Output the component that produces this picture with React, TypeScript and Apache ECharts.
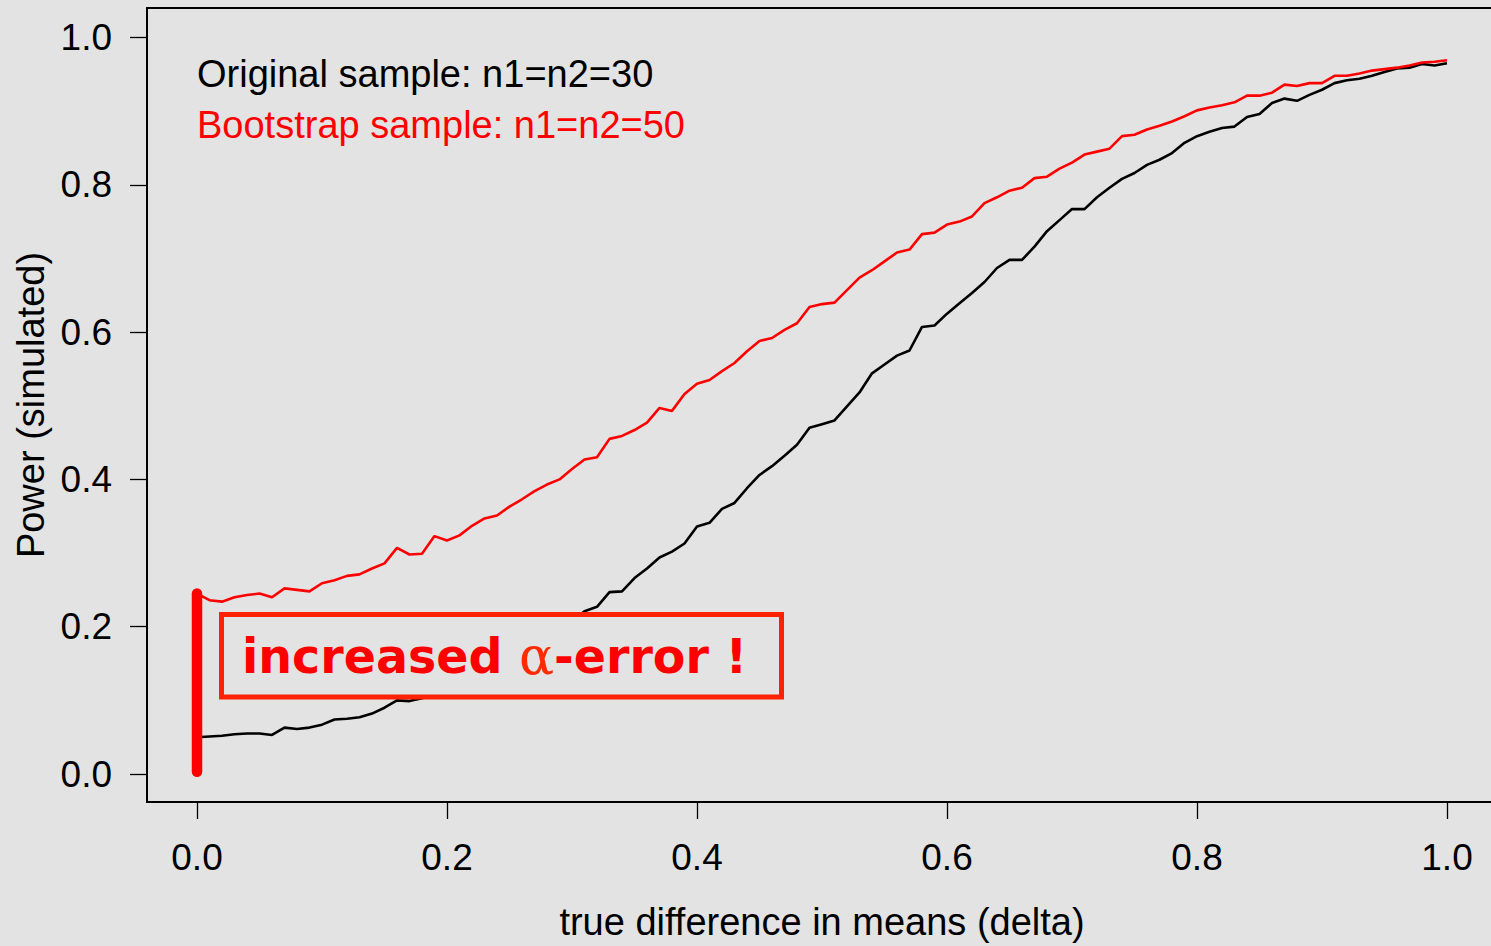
import React, { useEffect, useRef } from "react";
import * as echarts from "echarts";

const delta = [
  0.0, 0.01, 0.02, 0.03, 0.04, 0.05, 0.06, 0.07, 0.08, 0.09,
  0.1, 0.11, 0.12, 0.13, 0.14, 0.15, 0.16, 0.17, 0.18, 0.19,
  0.2, 0.21, 0.22, 0.23, 0.24, 0.25, 0.26, 0.27, 0.28, 0.29,
  0.3, 0.31, 0.32, 0.33, 0.34, 0.35, 0.36, 0.37, 0.38, 0.39,
  0.4, 0.41, 0.42, 0.43, 0.44, 0.45, 0.46, 0.47, 0.48, 0.49,
  0.5, 0.51, 0.52, 0.53, 0.54, 0.55, 0.56, 0.57, 0.58, 0.59,
  0.6, 0.61, 0.62, 0.63, 0.64, 0.65, 0.66, 0.67, 0.68, 0.69,
  0.7, 0.71, 0.72, 0.73, 0.74, 0.75, 0.76, 0.77, 0.78, 0.79,
  0.8, 0.81, 0.82, 0.83, 0.84, 0.85, 0.86, 0.87, 0.88, 0.89,
  0.9, 0.91, 0.92, 0.93, 0.94, 0.95, 0.96, 0.97, 0.98, 0.99,
  1.0,
];

const powerOriginal = [
  0.05, 0.051, 0.052, 0.054, 0.055, 0.055, 0.053, 0.063, 0.061, 0.063,
  0.067, 0.074, 0.075, 0.077, 0.082, 0.09, 0.1, 0.099, 0.103, 0.108,
  0.113, 0.119, 0.126, 0.134, 0.143, 0.152, 0.163, 0.175, 0.185, 0.196,
  0.207, 0.221, 0.227, 0.247, 0.248, 0.266, 0.279, 0.294, 0.302, 0.313,
  0.336, 0.341, 0.36, 0.368, 0.388, 0.406, 0.418, 0.432, 0.447, 0.47,
  0.475, 0.48, 0.499, 0.518, 0.544, 0.556, 0.568, 0.575, 0.607, 0.609,
  0.625, 0.639, 0.653, 0.668, 0.687, 0.698, 0.698, 0.716, 0.737, 0.752,
  0.767, 0.767, 0.783, 0.796, 0.808, 0.816, 0.827, 0.834, 0.843, 0.857,
  0.866, 0.872, 0.877, 0.879, 0.892, 0.896, 0.911, 0.917, 0.914, 0.922,
  0.929, 0.938, 0.942, 0.944, 0.948, 0.953, 0.958, 0.959, 0.964, 0.962,
  0.965,
];

const powerBootstrap = [
  0.245, 0.236, 0.234, 0.24, 0.243, 0.245, 0.24, 0.252, 0.25, 0.248,
  0.259, 0.263, 0.269, 0.271, 0.279, 0.286, 0.307, 0.298, 0.299, 0.323,
  0.317, 0.324, 0.337, 0.347, 0.351, 0.363, 0.373, 0.384, 0.393, 0.4,
  0.414, 0.427, 0.43, 0.455, 0.459, 0.467, 0.477, 0.497, 0.493, 0.516,
  0.53, 0.535, 0.547, 0.558, 0.574, 0.588, 0.592, 0.603, 0.612, 0.634,
  0.638, 0.64, 0.657, 0.674, 0.684, 0.696, 0.708, 0.712, 0.733, 0.735,
  0.746, 0.75, 0.757, 0.775, 0.783, 0.792, 0.796, 0.809, 0.811, 0.822,
  0.83, 0.841, 0.845, 0.849, 0.866, 0.868, 0.875, 0.88, 0.886, 0.893,
  0.901, 0.905, 0.908, 0.912, 0.921, 0.921, 0.925, 0.936, 0.934, 0.938,
  0.938, 0.948, 0.948, 0.951, 0.955, 0.957, 0.959, 0.962, 0.966, 0.967,
  0.969,
];

// alpha-error bar at delta = 0: from ~0 up to bootstrap power at delta 0
const alphaBarX = [0, 0];
const alphaBarY = [0.003, 0.245];

const tickValues = [0, 0.2, 0.4, 0.6, 0.8, 1.0];

const legendLines = ["Original sample: n1=n2=30", "Bootstrap sample: n1=n2=50"];
const xTitle = "true difference in means (delta)";
const yTitle = "Power (simulated)";

const BG = "#e3e3e3";
const FONT = "'Liberation Sans', Arial, Helvetica, sans-serif";

export default function App() {
  const ref = useRef<HTMLDivElement>(null);

  useEffect(() => {
    if (!ref.current) return;
    const chart = echarts.init(ref.current, null, { renderer: "svg" });

    const X_MIN = -0.04;
    const X_MAX = 1.0352;

    const axisCommon = {
      type: "value" as const,
      splitLine: { show: false },
      axisLine: { show: true, onZero: false, lineStyle: { color: "#000", width: 2 } },
      axisTick: {
        show: true,
        customValues: tickValues,
        length: 17,
        inside: false,
        lineStyle: { color: "#000", width: 1.3 },
      },
      nameLocation: "middle" as const,
    };

    chart.setOption({
      animation: false,
      backgroundColor: BG,
      grid: {
        left: 147,
        top: 8,
        right: 0,
        bottom: 144,
        show: false,
      },
      xAxis: [
        {
          ...axisCommon,
          position: "bottom",
          min: X_MIN,
          max: X_MAX,
          name: xTitle,
          nameGap: 101,
          nameTextStyle: {
            color: "#000",
            fontSize: 38,
            fontFamily: FONT,
            padding: [0, 0, 0, 6],
          },
          axisLabel: {
            customValues: tickValues,
            formatter: (v: number) => v.toFixed(1),
            margin: 37,
            fontSize: 37,
            color: "#000",
            fontFamily: FONT,
          },
        },
        {
          type: "value",
          position: "top",
          min: X_MIN,
          max: X_MAX,
          splitLine: { show: false },
          axisLine: { show: true, onZero: false, lineStyle: { color: "#000", width: 2 } },
          axisTick: { show: false },
          axisLabel: { show: false },
        },
      ],
      yAxis: {
        ...axisCommon,
        min: -0.038,
        max: 1.04,
        name: yTitle,
        nameGap: 97,
        nameRotate: 90,
        nameTextStyle: { color: "#000", fontSize: 38, fontFamily: FONT },
        axisLabel: {
          customValues: tickValues,
          formatter: (v: number) => v.toFixed(1),
          margin: 35,
          fontSize: 37,
          color: "#000",
          fontFamily: FONT,
        },
      },
      series: [
        {
          name: "Original",
          type: "line",
          xAxisIndex: 0,
          data: delta.map((d, i) => [d, powerOriginal[i]]),
          symbol: "none",
          lineStyle: { color: "#000000", width: 2.6 },
          z: 2,
        },
        {
          name: "Bootstrap",
          type: "line",
          xAxisIndex: 0,
          data: delta.map((d, i) => [d, powerBootstrap[i]]),
          symbol: "none",
          lineStyle: { color: "#ff0000", width: 2.6 },
          z: 3,
        },
        {
          name: "alpha",
          type: "line",
          xAxisIndex: 0,
          data: alphaBarX.map((d, i) => [d, alphaBarY[i]]),
          symbol: "none",
          lineStyle: { color: "#ff0000", width: 10.5, cap: "round" },
          z: 4,
        },
      ],
      graphic: [
        {
          type: "text",
          z: 100,
          style: {
            text: legendLines[0],
            x: 197,
            y: 74,
            fill: "#000",
            fontSize: 38,
            fontFamily: FONT,
            verticalAlign: "middle",
            align: "left",
          },
        },
        {
          type: "text",
          z: 100,
          style: {
            text: legendLines[1],
            x: 197,
            y: 125,
            fill: "#ff0000",
            fontSize: 38,
            fontFamily: FONT,
            verticalAlign: "middle",
            align: "left",
          },
        },
        {
          type: "rect",
          z: 100,
          shape: { x: 221.5, y: 614.5, width: 560, height: 82.5 },
          style: { fill: BG, stroke: "#ff2200", lineWidth: 5 },
        },
        {
          type: "text",
          z: 101,
          style: {
            text: "{a|increased }{b|α}{a|-error !}",
            x: 242,
            y: 656,
            verticalAlign: "middle",
            align: "left",
            rich: {
              a: {
                fill: "#ff0000",
                fontSize: 47.5,
                fontWeight: "bold",
                fontFamily: "'DejaVu Sans', Verdana, sans-serif",
              },
              b: {
                fill: "#ff2a00",
                fontSize: 52,
                fontFamily: "'DejaVu Serif', 'Liberation Serif', serif",
              },
            },
          },
        },
      ],
    });

    return () => chart.dispose();
  }, []);

  return (
    <div
      ref={ref}
      style={{
        position: "fixed",
        left: 0,
        top: 0,
        width: 1491,
        height: 946,
        background: BG,
      }}
    />
  );
}
